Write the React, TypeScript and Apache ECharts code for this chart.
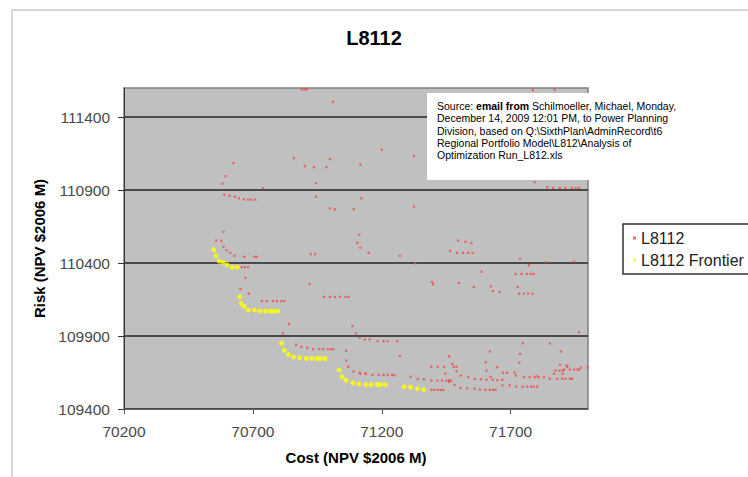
import React, { useEffect, useRef } from "react";
import * as echarts from "echarts";

const chartTitle = "L8112";
const xAxisName = "Cost (NPV $2006 M)";
const yAxisName = "Risk (NPV $2006 M)";
const xTicks = [70200, 70700, 71200, 71700];
const yTicks = [109400, 109900, 110400, 110900, 111400];
const xRange = [70200, 72000];
const yRange = [109400, 111600];

const l8112Points: number[][] = [
  [70890, 111590], [70900, 111590], [70910, 111590], [71011, 111505],
  [70625, 111085], [70594, 110996], [70582, 110945], [70739, 110913],
  [70589, 110869], [70609, 110862], [70630, 110855], [70646, 110844], [70665, 110837], [70681, 110835], [70693, 110835], [70709, 110835],
  [70859, 111119], [70902, 111064], [70937, 111057], [70985, 111057], [70999, 111113], [70945, 110948], [70945, 110855], [70999, 110776], [71018, 110769], [71091, 110769],
  [71117, 111075], [71121, 110844], [71113, 110594], [71105, 110539], [71117, 110505],
  [70586, 110615], [70558, 110553], [70578, 110553], [70586, 110512],
  [70598, 110487], [70613, 110470], [70628, 110450], [70667, 110443], [70706, 110443], [70715, 110443],
  [70657, 110372], [70669, 110372], [70682, 110372],
  [70671, 110298], [70652, 110222], [70684, 110191],
  [70735, 110140], [70754, 110140], [70778, 110140], [70793, 110140], [70810, 110140], [70822, 110140],
  [70920, 110257], [70925, 110461], [70941, 110461],
  [70976, 110168], [70999, 110168], [71018, 110168], [71039, 110168], [71059, 110168], [71071, 110168],
  [71149, 110470],
  [70840, 109982], [70816, 109918], [71086, 109968], [71099, 109918], [71114, 109888], [71134, 109877], [71153, 109877],
  [70867, 109840], [70888, 109826], [70911, 109820], [70934, 109810], [70958, 109810], [70973, 109810], [70991, 109810], [71003, 109810], [71012, 109810],
  [71062, 109799], [71062, 109732], [71070, 109691], [71091, 109657], [71114, 109648], [71137, 109643],
  [71270, 110450], [71329, 110399], [71496, 110555], [71525, 110546], [71548, 110537], [71465, 110484], [71492, 110470], [71515, 110470], [71535, 110470], [71552, 110470],
  [71736, 110429], [71771, 110386], [71837, 110406], [71946, 110411],
  [71587, 110340], [71719, 110326], [71742, 110326], [71763, 110326], [71778, 110326], [71790, 110326],
  [71395, 110271], [71399, 110255], [71499, 110264], [71557, 110236], [71623, 110241], [71631, 110209], [71657, 110202], [71727, 110236],
  [71733, 110191], [71751, 110191], [71768, 110191], [71785, 110191],
  [71965, 109927],
  [71184, 109865], [71207, 109865], [71223, 109865], [71260, 109865], [71270, 109764],
  [71747, 109851], [71852, 109849], [71895, 109794], [71736, 109778], [71461, 109760], [71619, 109794],
  [71734, 109716], [71473, 109709], [71603, 109720],
  [71392, 109689], [71417, 109689], [71442, 109689], [71479, 109689], [71490, 109689], [71648, 109686], [71891, 109703], [71917, 109698], [71973, 109684], [71998, 109684],
  [71447, 109643], [71490, 109659], [71606, 109663], [71671, 109648], [71686, 109648], [71715, 109650], [71720, 109629],
  [71868, 109641], [71874, 109663], [71890, 109663], [71902, 109663], [71907, 109670], [71902, 109641], [71920, 109689], [71929, 109670], [71946, 109670], [71959, 109670], [71965, 109670],
  [71117, 109640], [71138, 109640], [71164, 109634], [71188, 109634], [71207, 109634], [71223, 109634], [71240, 109634], [71249, 109630],
  [71312, 109622], [71340, 109604], [71363, 109604],
  [71392, 109595], [71416, 109595], [71434, 109595], [71451, 109595], [71461, 109595], [71469, 109595],
  [71507, 109629], [71536, 109618], [71561, 109605], [71585, 109604], [71606, 109600], [71622, 109620], [71630, 109600], [71648, 109598], [71667, 109600],
  [71751, 109618], [71774, 109618], [71793, 109618], [71800, 109625], [71809, 109618], [71829, 109618],
  [71852, 109607], [71881, 109607], [71899, 109607], [71912, 109607], [71930, 109607], [71938, 109607],
  [71482, 109565], [71461, 109586],
  [71505, 109544], [71531, 109542], [71560, 109540], [71580, 109533], [71602, 109531], [71619, 109531], [71632, 109531], [71641, 109531],
  [71392, 109531], [71404, 109531], [71417, 109531], [71428, 109531], [71438, 109531],
  [71668, 109562], [71696, 109562],
  [71722, 109553], [71746, 109553], [71764, 109553], [71780, 109553], [71790, 109553], [71803, 109553],
  [71200, 111177], [71325, 111133], [71325, 110787], [71786, 111585], [71871, 111590],
  [71784, 110977], [71793, 110954], [71926, 110982], [71945, 110977], [71965, 110977],
  [71842, 110920], [71865, 110915], [71891, 110915], [71913, 110915], [71937, 110915], [71952, 110915], [71965, 110915],
];

const frontierPoints: number[][] = [
  [70548, 110491], [70557, 110450], [70569, 110413], [70584, 110404], [70600, 110388], [70620, 110372], [70639, 110372],
  [70649, 110168], [70654, 110124], [70666, 110103], [70682, 110078], [70706, 110078], [70728, 110071], [70748, 110071], [70767, 110071], [70780, 110071], [70796, 110071],
  [70811, 109851], [70822, 109803], [70838, 109773], [70858, 109757], [70881, 109751], [70907, 109746], [70928, 109746], [70948, 109746], [70962, 109746], [70980, 109746],
  [71034, 109668], [71045, 109622], [71061, 109597], [71088, 109579], [71111, 109572], [71138, 109567], [71158, 109567], [71182, 109567], [71194, 109567], [71214, 109567],
  [71287, 109553], [71311, 109549], [71338, 109540], [71363, 109533],
];

const noteText =
  "Source: {b|email from} Schilmoeller, Michael, Monday,\n" +
  "December 14, 2009 12:01 PM, to Power Planning\n" +
  "Division, based on Q:\\SixthPlan\\AdminRecord\\t6\n" +
  "Regional Portfolio Model\\L812\\Analysis of\n" +
  "Optimization Run_L812.xls";

const FONT = "'Liberation Sans', Arial, sans-serif";

export default function App() {
  const ref = useRef<HTMLDivElement>(null);
  useEffect(() => {
    const chart = echarts.init(ref.current!, null, { renderer: "svg" });
    chart.setOption({
      animation: false,
      backgroundColor: "#ffffff",
      textStyle: { fontFamily: FONT },
      title: {
        text: chartTitle,
        left: "center",
        top: 28,
        padding: 0,
        textStyle: { fontFamily: FONT, fontSize: 20, fontWeight: "bold", color: "#000" },
      },
      grid: {
        left: 124,
        right: 160,
        top: 88,
        bottom: 68,
        show: true,
        backgroundColor: "#C0C0C0",
        borderColor: "#808080",
        borderWidth: 1.5,
      },
      legend: {
        orient: "vertical",
        left: 623,
        top: 224,
        padding: [6, 30, 6, 10],
        itemGap: 6,
        itemWidth: 3,
        itemHeight: 3,
        backgroundColor: "#fff",
        borderColor: "#333",
        borderWidth: 1.5,
        textStyle: { fontFamily: FONT, fontSize: 16, color: "#222" },
        data: [
          { name: "L8112", icon: "rect" },
          { name: "L8112 Frontier", icon: "circle" },
        ],
      },
      xAxis: {
        type: "value",
        min: xRange[0],
        max: xRange[1],
        name: xAxisName,
        nameLocation: "middle",
        nameGap: 41,
        nameTextStyle: { fontFamily: FONT, fontSize: 15, fontWeight: "bold", color: "#000" },
        axisLine: { show: true, lineStyle: { color: "#666", width: 1 } },
        axisTick: { show: true, length: 5, customValues: xTicks, lineStyle: { color: "#555" } },
        axisLabel: {
          customValues: xTicks,
          margin: 14,
          fontFamily: FONT,
          fontSize: 15.5,
          color: "#4a4a4a",
          formatter: (v: number) => String(v),
        },
        splitLine: { show: false },
      },
      yAxis: {
        type: "value",
        min: yRange[0],
        max: yRange[1],
        name: yAxisName,
        nameLocation: "middle",
        nameGap: 76,
        nameTextStyle: { fontFamily: FONT, fontSize: 15, fontWeight: "bold", color: "#000" },
        axisLine: { show: true, lineStyle: { color: "#333", width: 1 } },
        axisTick: { show: true, length: 6, customValues: yTicks, lineStyle: { color: "#333" } },
        axisLabel: {
          customValues: yTicks,
          margin: 14,
          fontFamily: FONT,
          fontSize: 15.5,
          color: "#4a4a4a",
          formatter: (v: number) => String(v),
        },
        splitLine: { show: true, lineStyle: { color: "#4a4a4a", width: 2 } },
      },
      series: [
        {
          name: "L8112",
          type: "scatter",
          data: l8112Points,
          symbol: "rect",
          symbolSize: 2.2,
          itemStyle: { color: "#f04848", opacity: 0.8 },
          z: 2,
        },
        {
          name: "L8112 Frontier",
          type: "scatter",
          data: frontierPoints,
          symbol: "circle",
          symbolSize: 5,
          itemStyle: { color: "#ffff00" },
          z: 3,
        },
      ],
      graphic: [
        {
          type: "line",
          z: 50,
          shape: { x1: 12, y1: 10, x2: 12, y2: 477 },
          style: { stroke: "#c8c8c8", lineWidth: 1.5 },
        },
        {
          type: "line",
          z: 50,
          shape: { x1: 12, y1: 10, x2: 748, y2: 10 },
          style: { stroke: "#c8c8c8", lineWidth: 1.5 },
        },
        {
          type: "rect",
          z: 100,
          shape: { x: 427, y: 93, width: 270, height: 87 },
          style: { fill: "#ffffff" },
        },
        {
          type: "text",
          z: 101,
          x: 437,
          y: 99.5,
          style: {
            text: noteText,
            fontFamily: FONT,
            fontSize: 10.5,
            lineHeight: 12.4,
            fill: "#000",
            rich: {
              b: { fontFamily: FONT, fontSize: 10.5, lineHeight: 12.4, fontWeight: "bold", fill: "#000" },
            },
          },
        },
      ],
    });
    return () => chart.dispose();
  }, []);
  return <div ref={ref} style={{ position: "fixed", left: 0, top: 0, width: 748, height: 477 }} />;
}
